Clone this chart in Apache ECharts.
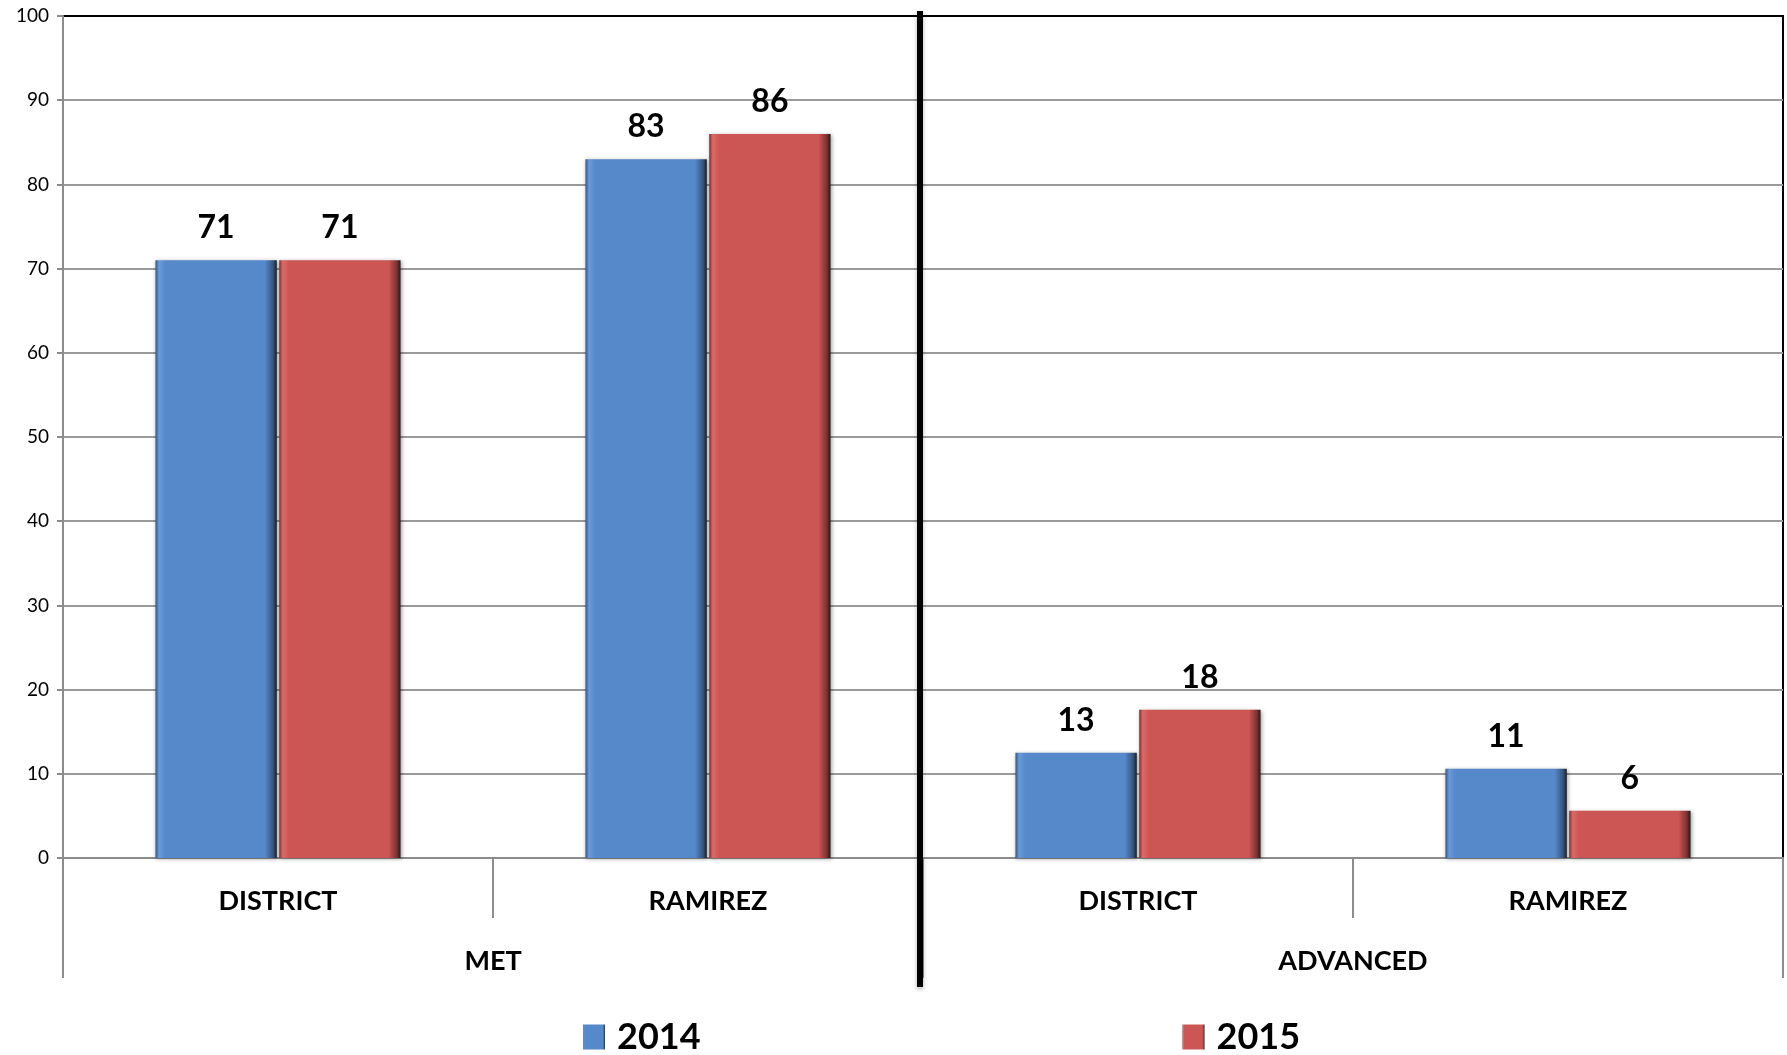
<!DOCTYPE html>
<html>
<head>
<meta charset="utf-8">
<script src="https://cdn.jsdelivr.net/npm/echarts@6/dist/echarts.min.js"></script>
<style>
  html, body { margin: 0; padding: 0; background: #fff; }
  #chart { width: 1787px; height: 1055px; }
</style>
</head>
<body>
<div id="chart"></div>
<script>
const schools = ['DISTRICT', 'RAMIREZ', 'DISTRICT', 'RAMIREZ']
const levels = ['MET', 'ADVANCED']
const years = ['2014', '2015']
const values2014 = [71, 83, 12.5, 10.6]
const values2015 = [71, 86, 17.6, 5.6]

const FONT = 'Lato, "Open Sans", sans-serif'
const GRID_GRAY = '#9a9a9a'

function barFill(light, body, dark) {
  return new echarts.graphic.LinearGradient(0, 0, 1, 0, [
    { offset: 0, color: dark },
    { offset: 0.03, color: light },
    { offset: 0.08, color: body },
    { offset: 0.9, color: body },
    { offset: 0.97, color: dark },
    { offset: 1, color: '#1c1c1c' },
  ])
}

const blue = barFill('#6a9bdb', '#5689ca', '#34557f')
const red = barFill('#de6a68', '#cc5654', '#7c3130')

function makeSeries(name, data, fill) {
  return {
    name,
    type: 'bar',
    data,
    barCategoryGap: '43%',
    barGap: '2%',
    itemStyle: {
      color: fill,
      shadowBlur: 4,
      shadowColor: 'rgba(0,0,0,0.35)',
      shadowOffsetX: 1,
      shadowOffsetY: 1,
    },
    label: {
      show: true,
      position: 'top',
      distance: 16,
      fontFamily: FONT,
      fontWeight: 'bold',
      fontSize: 32,
      color: '#000',
      formatter: p => Math.round(p.value),
    },
  }
}

const chart = echarts.init(document.getElementById('chart'))

// split lines: gray, the top one (100) black
const splitColors = Array.from({ length: 10 }, () => GRID_GRAY).concat(['#000'])

const catLabel = {
  interval: 0,
  fontFamily: FONT,
  fontWeight: 'bold',
  fontSize: 27,
  color: '#000',
}
const catTick = { show: true, length: 60, interval: 0, lineStyle: { color: '#8c8c8c', width: 2 } }

chart.setOption({
  animation: false,
  grid: {
    left: 63,
    right: 4,
    top: 16,
    bottom: 197,
    show: true,
    borderColor: '#000',
    borderWidth: 2,
  },
  legend: {
    left: 578,
    top: 1014,
    itemGap: 482,
    itemWidth: 22,
    itemHeight: 25,
    icon: 'rect',
    textStyle: {
      fontFamily: FONT,
      fontWeight: 'bold',
      fontSize: 36,
      color: '#000',
      padding: [0, 0, 0, 7],
    },
    data: [
      { name: years[0], itemStyle: { color: blue } },
      { name: years[1], itemStyle: { color: red } },
    ],
  },
  xAxis: [
    {
      type: 'category',
      data: schools,
      axisLine: { lineStyle: { color: '#8c8c8c', width: 2 } },
      axisTick: catTick,
      axisLabel: { ...catLabel, margin: 30 },
    },
    {
      type: 'category',
      data: levels,
      position: 'bottom',
      offset: 60,
      axisLine: { show: false },
      axisTick: catTick,
      axisLabel: { ...catLabel, margin: 30 },
    },
  ],
  yAxis: {
    type: 'value',
    min: 0,
    max: 100,
    interval: 10,
    axisLine: { show: true, lineStyle: { color: '#8c8c8c', width: 2 } },
    axisTick: { show: true, length: 6, lineStyle: { color: '#8c8c8c', width: 2 } },
    axisLabel: { margin: 14, fontFamily: FONT, fontSize: 19, color: '#000' },
    splitLine: { lineStyle: { color: splitColors, width: 2 } },
  },
  series: [
    makeSeries(years[0], values2014, blue),
    makeSeries(years[1], values2015, red),
  ],
})

// thick divider between the MET and ADVANCED groups
const xa = chart.convertToPixel({ xAxisIndex: 0 }, 1)
const xb = chart.convertToPixel({ xAxisIndex: 0 }, 2)
const yTop = chart.convertToPixel({ yAxisIndex: 0 }, 100)
const yZero = chart.convertToPixel({ yAxisIndex: 0 }, 0)
const xMid = (xa + xb) / 2 - 3
chart.setOption({
  graphic: [
    {
      type: 'line',
      z: 100,
      shape: { x1: xMid, y1: yTop - 5, x2: xMid, y2: yZero + 129 },
      style: {
        stroke: '#000',
        lineWidth: 6,
        shadowBlur: 4,
        shadowColor: 'rgba(0,0,0,0.3)',
        shadowOffsetY: 2,
      },
    },
  ],
})
</script>
</body>
</html>
